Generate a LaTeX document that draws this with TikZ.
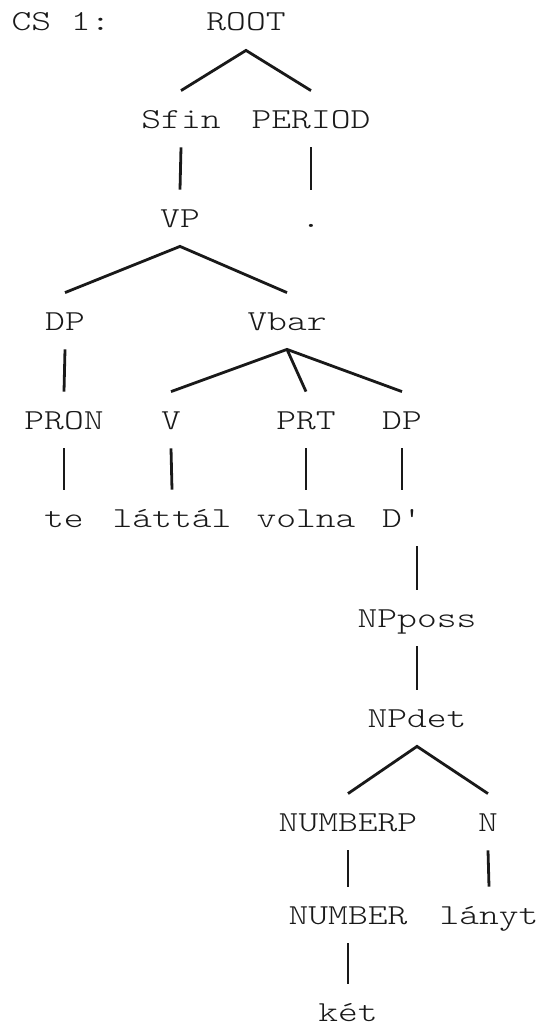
\documentclass[tikz,border=0pt]{standalone}
\usepackage{fontspec}
\setmonofont{Latin Modern Mono Light}[FakeStretch=1.3]
\begin{document}
\begin{tikzpicture}[x=0.5pt,y=-0.5pt,
  lbl/.style={font=\ttfamily\fontsize{14.5}{16}\selectfont, text=black!90,
    inner sep=0pt, minimum height=28pt, text height=9pt, text depth=0pt, anchor=center},
  edge/.style={line width=1.4pt, draw=black!90}]
\useasboundingbox (0,0) rectangle (542,1028);
% row 1
\node[lbl] (cs) at (61,22) {CS 1:};
\node[lbl] (root) at (246,22) {ROOT};
% row 2
\node[lbl] (sfin) at (181,119) {Sfin};
\node[lbl] (period) at (311,119) {PERIOD};
% row 3
\node[lbl] (vp) at (180,218) {VP};
\node[lbl] (dot) at (311,218) {.};
% row 4
\node[lbl] (dp1) at (65,321) {DP};
\node[lbl] (vbar) at (287,321) {Vbar};
% row 5
\node[lbl] (pron) at (64,420) {PRON};
\node[lbl] (v) at (171,420) {V};
\node[lbl] (prt) at (306,420) {PRT};
\node[lbl] (dp2) at (402,420) {DP};
% row 6
\node[lbl] (te) at (64,518) {te};
\node[lbl] (lattal) at (172,518) {láttál};
\node[lbl] (volna) at (306,518) {volna};
\node[lbl] (dbar) at (402,518) {D'};
% row 7-8
\node[lbl] (npposs) at (417,618) {NPposs};
\node[lbl] (npdet) at (417,718) {NPdet};
% row 9
\node[lbl] (numberp) at (348,822) {NUMBERP};
\node[lbl] (n) at (488,822) {N};
% row 10
\node[lbl] (number) at (348,915) {NUMBER};
\node[lbl] (lanyt) at (489,915) {lányt};
% row 11
\node[lbl] (ket) at (348,1012) {két};
% edges
\draw[edge] (sfin.north) -- (root.south) -- (period.north);
\draw[edge] (sfin.south) -- (vp.north);
\draw[edge] (period.south) -- (dot.north);
\draw[edge] (dp1.north) -- (vp.south) -- (vbar.north);
\draw[edge] (dp1.south) -- (pron.north);
\draw[edge] (v.north) -- (vbar.south) -- (dp2.north);
\draw[edge] (vbar.south) -- (prt.north);
\draw[edge] (pron.south) -- (te.north);
\draw[edge] (v.south) -- (lattal.north);
\draw[edge] (prt.south) -- (volna.north);
\draw[edge] (dp2.south) -- (dbar.north);
\draw[edge] (npposs.north |- dbar.south) -- (npposs.north);
\draw[edge] (npposs.south) -- (npdet.north);
\draw[edge] (numberp.north) -- (npdet.south) -- (n.north);
\draw[edge] (numberp.south) -- (number.north);
\draw[edge] (n.south) -- (lanyt.north);
\draw[edge] (number.south) -- (ket.north);
\end{tikzpicture}
\end{document}
